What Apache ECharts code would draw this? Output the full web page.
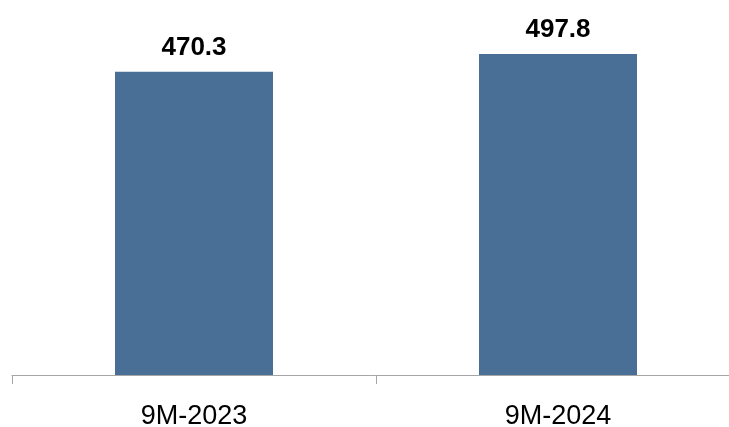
<!DOCTYPE html>
<html>
<head>
<meta charset="utf-8">
<style>html,body{margin:0;padding:0;background:#fff;}#chart{width:729px;height:427px;}</style>
<script src="https://cdn.jsdelivr.net/npm/echarts@6/dist/echarts.min.js"></script>
</head>
<body>
<div id="chart"></div>
<script>
var categories = ['9M-2023', '9M-2024'];
var values = [470.3, 497.8];

var chart = echarts.init(document.getElementById('chart'));
chart.setOption({
  animation: false,
  grid: { left: 12, width: 728, top: 54, bottom: 52, outerBoundsMode: 'none' },
  xAxis: {
    type: 'category',
    data: categories,
    axisLine: { show: true, lineStyle: { color: '#a6a6a6', width: 1 } },
    axisTick: { show: true, length: 9, lineStyle: { color: '#a6a6a6' } },
    axisLabel: { color: '#000', fontFamily: 'Liberation Sans', fontSize: 27, margin: 28 }
  },
  yAxis: {
    type: 'value', min: 0, max: 497.8, show: false,
    splitLine: { show: false }
  },
  series: [{
    type: 'bar',
    data: values,
    barWidth: 158,
    itemStyle: { color: '#4a6f97' },
    label: {
      show: true, position: 'top', distance: 11,
      color: '#000', fontFamily: 'Liberation Sans', fontWeight: 'bold', fontSize: 26,
      formatter: function (p) { return p.value.toFixed(1); }
    }
  }]
});
</script>
</body>
</html>
